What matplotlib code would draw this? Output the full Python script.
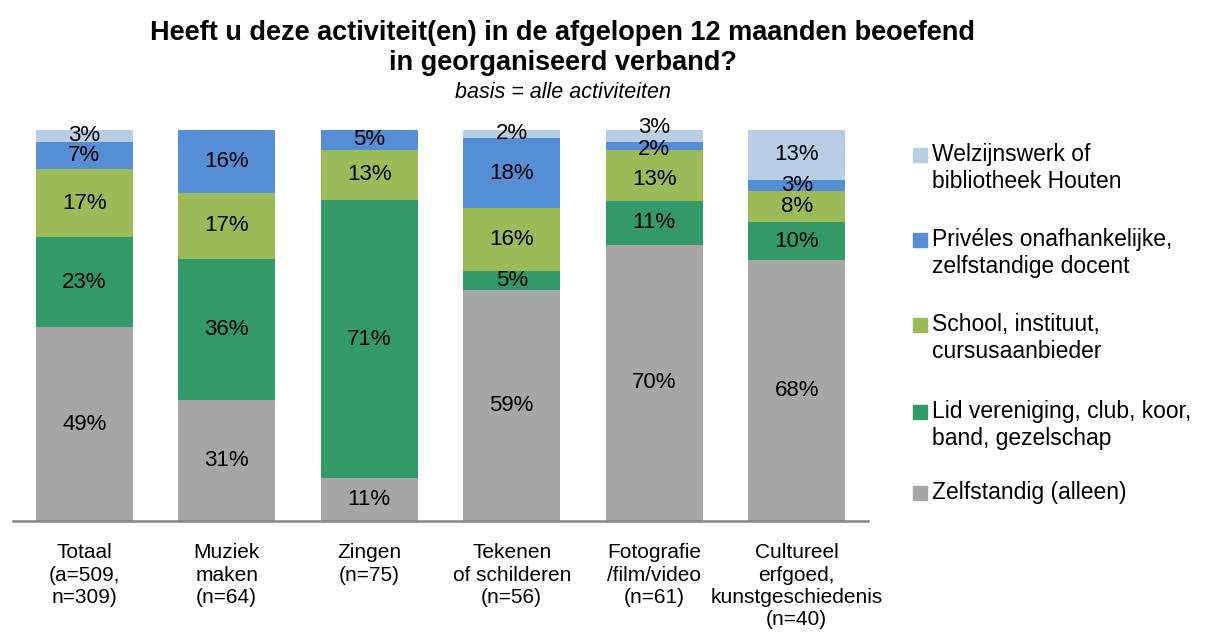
import numpy as np
import matplotlib
matplotlib.use("Agg")
import matplotlib.pyplot as plt
from matplotlib.patches import Rectangle

plt.rcParams['font.family'] = ['Liberation Sans', 'DejaVu Sans']

groups = ["Totaal\n(a=509,\nn=309)", "Muziek\nmaken\n(n=64)", "Zingen\n(n=75)",
          "Tekenen\nof schilderen\n(n=56)", "Fotografie\n/film/video\n(n=61)",
          "Cultureel\nerfgoed,\nkunstgeschiedenis\n(n=40)"]

# bottom to top
series = ["Zelfstandig (alleen)",
          "Lid vereniging, club, koor,\nband, gezelschap",
          "School, instituut,\ncursusaanbieder",
          "Privéles onafhankelijke,\nzelfstandige docent",
          "Welzijnswerk of\nbibliotheek Houten"]
zelfstandig = [49, 31, 11, 59, 70, 68]
vereniging = [23, 36, 71, 5, 11, 10]
school = [17, 17, 13, 16, 13, 8]
priveles = [7, 16, 5, 18, 2, 3]
welzijn = [3, 0, 0, 2, 3, 13]
colors = ["#A6A6A6", "#339966", "#9BBB59", "#558ED5", "#B9CDE5"]

data = np.array([zelfstandig, vereniging, school, priveles, welzijn], dtype=float)
totals = data.sum(axis=0)
heights = data / totals * 100

# small nudges (points) for crowded labels: (series, group) -> dy
nudge = {(4, 4): 6, (3, 4): -3, (2, 4): -3}

fig = plt.figure(figsize=(12.2, 6.39), dpi=100)
ax = fig.add_axes([13 / 1220, 1 - 521 / 639, 855 / 1220, 391 / 639])

x = np.arange(len(groups))
bottom = np.zeros(len(groups))
for i in range(len(series)):
    ax.bar(x, heights[i], 0.68, bottom=bottom, color=colors[i], label=series[i])
    for j in range(len(groups)):
        if data[i, j] > 0:
            yc = bottom[j] + heights[i, j] / 2
            ax.annotate(f"{int(data[i, j])}%", (x[j], yc), xytext=(0, nudge.get((i, j), 0)),
                        textcoords="offset points", ha="center", va="center", fontsize=16)
    bottom += heights[i]

ax.set_xlim(-0.5, len(groups) - 0.5)
ax.set_ylim(0, 100)
ax.set_yticks([])
ax.set_xticks(x)
ax.set_xticklabels(groups, fontsize=15, linespacing=1.22, va="top")
ax.tick_params(axis="x", length=0, pad=16)
for s in ["top", "right", "left"]:
    ax.spines[s].set_visible(False)
ax.spines["bottom"].set_color("#868686")
ax.spines["bottom"].set_linewidth(1.8)

fig.text(563 / 1220, 1 - 33 / 639, "Heeft u deze activiteit(en) in de afgelopen 12 maanden beoefend",
         ha="center", va="center", fontsize=19.5, fontweight="bold")
fig.text(563 / 1220, 1 - 63 / 639, "in georganiseerd verband?",
         ha="center", va="center", fontsize=19.5, fontweight="bold")
fig.text(563 / 1220, 1 - 92 / 639, "basis = alle activiteiten",
         ha="center", va="center", fontsize=15.5, style="italic")

# legend, top entry first, marker aligned with first text line
leg_y = [155, 240, 325, 412, 493]
for k, i in enumerate(range(len(series) - 1, -1, -1)):
    y = leg_y[k]
    fig.patches.append(Rectangle((913 / 1220, 1 - (y + 7) / 639), 14 / 1220, 14 / 639,
                                 transform=fig.transFigure, color=colors[i]))
    fig.text(932 / 1220, 1 - (y - 12) / 639, series[i], ha="left", va="top",
             fontsize=16.5, linespacing=1.2)

fig.savefig("out.png", dpi=100)
